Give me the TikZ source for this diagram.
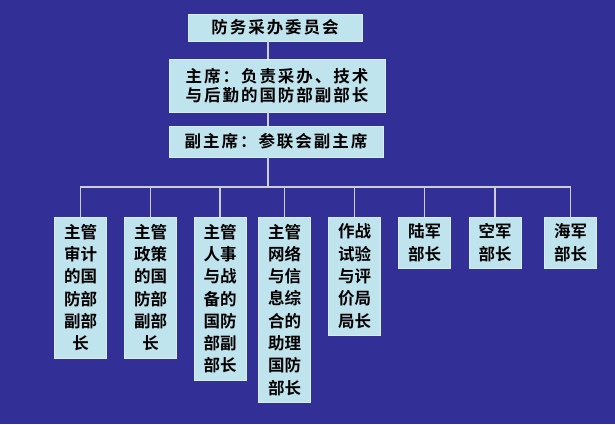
\documentclass[tikz,border=0pt]{standalone}
\usepackage{fontspec}
\newfontfamily\cjk{Noto Sans CJK SC}[BoldFont={Noto Sans CJK SC Bold}]
\newfontfamily\cjkwide{Noto Sans CJK SC}[BoldFont={Noto Sans CJK SC Bold},
  LetterSpace=12]
\usepackage{tikz}
\usetikzlibrary{positioning}
\definecolor{bgblue}{RGB}{50,48,150}
\definecolor{boxcyan}{RGB}{192,228,238}
\definecolor{boxedge}{RGB}{215,238,245}
\definecolor{linegray}{RGB}{205,205,210}

\begin{document}
\begin{tikzpicture}[x=1pt, y=-1pt,
  every node/.style={font=\cjk\bfseries},
  topbox/.style={rectangle, draw=boxedge, fill=boxcyan, inner sep=0pt,
                 align=center, font=\cjkwide\bfseries\fontsize{16.5}{19}\selectfont},
  subbox/.style={rectangle, draw=boxedge, fill=boxcyan, inner sep=0pt,
                 minimum width=52pt, anchor=north, align=center,
                 font=\cjk\bfseries\fontsize{16.5}{22.3}\selectfont},
  link/.style={draw=linegray, line width=1.2pt},
]
  % background and frame
  \fill[bgblue] (0,0) rectangle (615,424);
  \useasboundingbox (0,0) rectangle (615,424);

  % top chain
  \node[topbox, minimum width=174pt, minimum height=27pt] (committee)
        at (275,27.5) {防务采办委员会};
  \node[topbox, minimum width=216pt, minimum height=53pt] (chair)
        at (277,85.5) {主席：负责采办、技术\\与后勤的国防部副部长};
  \node[topbox, minimum width=214pt, minimum height=31pt] (vicechair)
        at (276,141.5) {副主席：参联会副主席};

  % bottom row
  \node[subbox, minimum height=141pt] (audit)  at (80.5,217)
        {主管\\审计\\的国\\防部\\副部\\长};
  \node[subbox, minimum height=141pt] (policy) at (150.5,217)
        {主管\\政策\\的国\\防部\\副部\\长};
  \node[subbox, minimum height=163pt] (personnel) at (220,217)
        {主管\\人事\\与战\\备的\\国防\\部副\\部长};
  \node[subbox, minimum height=185pt] (network) at (284.5,217)
        {主管\\网络\\与信\\息综\\合的\\助理\\国防\\部长};
  \node[subbox, minimum height=118pt] (testeval) at (354.5,217)
        {作战\\试验\\与评\\价局\\局长};
  \node[subbox, minimum height=51pt] (army) at (424.5,217) {陆军\\部长};
  \node[subbox, minimum height=51pt] (airforce) at (495,217) {空军\\部长};
  \node[subbox, minimum height=51pt] (navy) at (570.5,217) {海军\\部长};

  \coordinate (bus) at (268,187);

  % Arrows main flow
  \draw[link] (committee.south -| bus) -- (chair.north -| bus);
  \draw[link] (chair.south -| bus) -- (vicechair.north -| bus);
  \draw[link] (vicechair.south -| bus) -- (bus);
  \draw[link] (audit.north) |- (navy.north |- bus) -- (navy.north);
  \foreach \b in {policy, personnel, network, testeval, army, airforce}
    \draw[link] (\b.north) -- (\b.north |- bus);

\end{tikzpicture}
\end{document}
